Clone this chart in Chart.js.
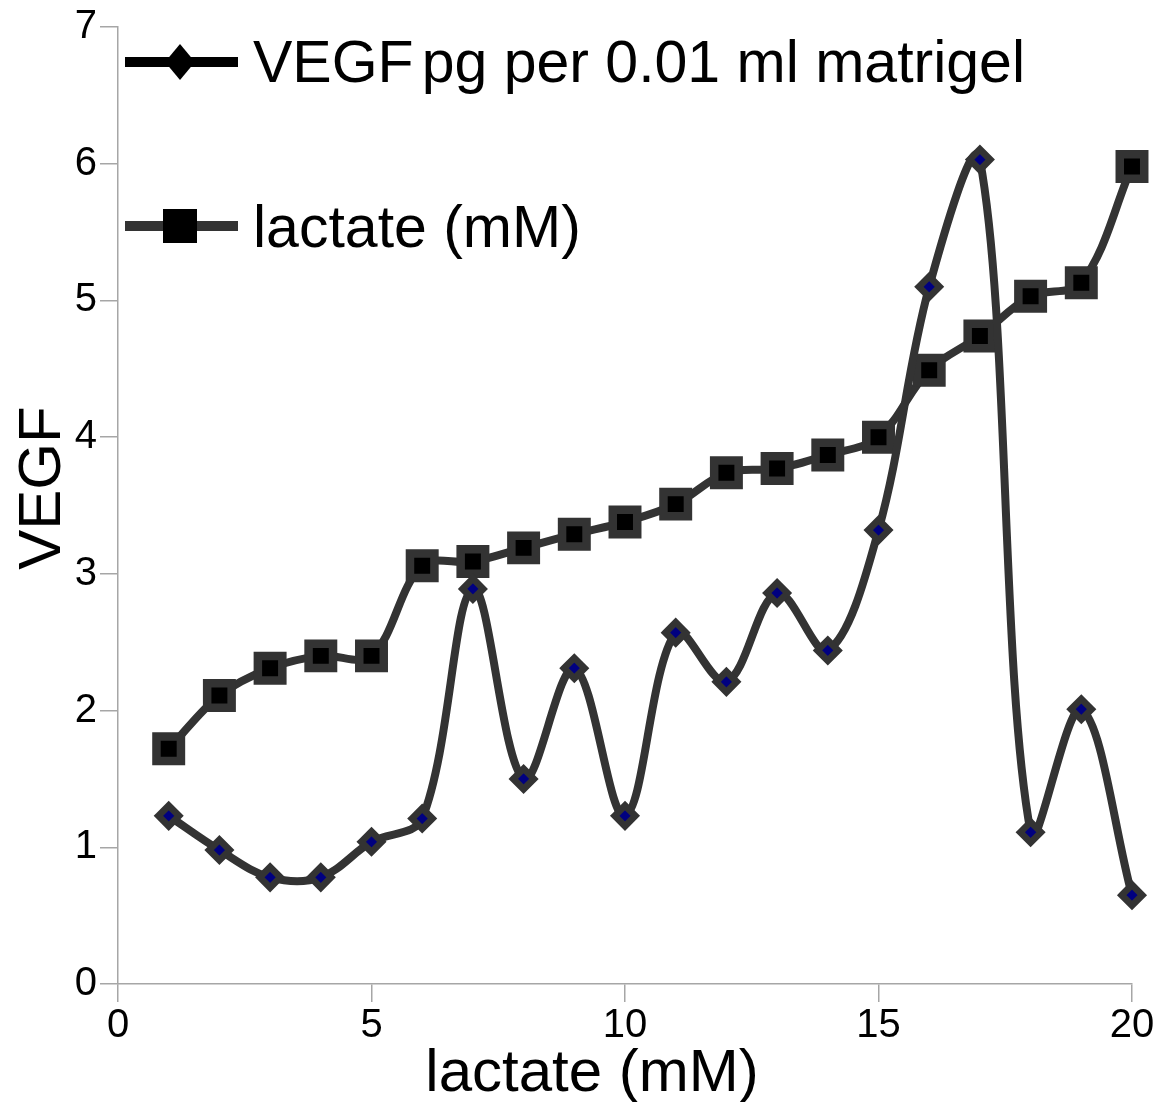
<!DOCTYPE html>
<html>
<head>
<meta charset="utf-8">
<title>VEGF vs lactate</title>
<script src="https://cdn.jsdelivr.net/npm/chart.js@4.4.1/dist/chart.umd.min.js"></script>
<style>
  html, body { margin: 0; padding: 0; background: #fff; }
  #wrap { width: 1158px; height: 1102px; position: relative; }
</style>
</head>
<body>
<div id="wrap"><canvas id="chart"></canvas></div>
<script>
// ── Data ─────────────────────────────────────────────────────
const lactateX = [1, 2, 3, 4, 5, 6, 7, 8, 9, 10, 11, 12, 13, 14, 15, 16, 17, 18, 19, 20];
const vegfVals = [1.23, 0.98, 0.78, 0.78, 1.04, 1.21, 2.89, 1.50, 2.31, 1.23,
                  2.57, 2.21, 2.86, 2.44, 3.32, 5.10, 6.03, 1.11, 2.01, 0.65];
const lactateVals = [1.72, 2.11, 2.31, 2.40, 2.40, 3.06, 3.09, 3.19, 3.29, 3.38,
                     3.51, 3.74, 3.77, 3.87, 4.00, 4.49, 4.74, 5.03, 5.13, 5.98];
const xTicks = [0, 5, 10, 15, 20];
const yTicks = [0, 1, 2, 3, 4, 5, 6, 7];

const FONT = "'Liberation Sans', Arial, Helvetica, sans-serif";
const LINE = '#333333';
const AXIS = '#a6a6a6';

const toPoints = vals => vals.map((v, i) => ({ x: lactateX[i], y: v }));

// ── Legend + axis titles drawn onto the canvas ───────────────
const overlayText = {
  id: 'overlayText',
  afterDraw(chart) {
    const ctx = chart.ctx;
    ctx.save();
    ctx.fillStyle = '#000';

    // legend row 1: VEGF
    ctx.strokeStyle = '#000';
    ctx.lineWidth = 10;
    ctx.beginPath();
    ctx.moveTo(125, 62); ctx.lineTo(238, 62);
    ctx.stroke();
    ctx.beginPath();
    ctx.moveTo(180, 44); ctx.lineTo(195, 62); ctx.lineTo(180, 80); ctx.lineTo(165, 62);
    ctx.closePath();
    ctx.fill();

    // legend row 2: lactate
    ctx.strokeStyle = LINE;
    ctx.beginPath();
    ctx.moveTo(125, 226); ctx.lineTo(238, 226);
    ctx.stroke();
    ctx.fillRect(163, 209, 34, 34);

    ctx.font = `59px ${FONT}`;
    ctx.textAlign = 'left';
    ctx.textBaseline = 'alphabetic';
    ctx.fillText('VEGF', 253, 82);
    const w = ctx.measureText('VEGF').width;
    ctx.fillText('pg per 0.01 ml matrigel', 253 + w + 8, 82);
    ctx.fillText('lactate (mM)', 253, 247);

    // axis titles
    ctx.font = `60px ${FONT}`;
    ctx.textAlign = 'center';
    ctx.fillText('lactate (mM)', 592, 1091);

    ctx.translate(60, 488);
    ctx.rotate(-Math.PI / 2);
    ctx.fillText('VEGF', 0, 0);
    ctx.restore();
  }
};

new Chart(document.getElementById('chart'), {
  type: 'line',
  data: {
    datasets: [
      {
        label: 'VEGF pg per 0.01 ml matrigel',
        data: toPoints(vegfVals),
        borderColor: LINE,
        borderWidth: 8,
        tension: 0.35,
        borderJoinStyle: 'round',
        borderCapStyle: 'round',
        pointStyle: 'rectRot',
        pointRadius: 10.3,
        pointBorderWidth: 6.7,
        pointBackgroundColor: '#000080',
        pointBorderColor: LINE,
        clip: false,
      },
      {
        label: 'lactate (mM)',
        data: toPoints(lactateVals),
        borderColor: LINE,
        borderWidth: 8,
        tension: 0.35,
        borderJoinStyle: 'round',
        borderCapStyle: 'round',
        pointStyle: 'rect',
        pointRadius: 17.3,
        pointBorderWidth: 8.5,
        pointBackgroundColor: '#000',
        pointBorderColor: LINE,
        clip: false,
      }
    ]
  },
  options: {
    responsive: true,
    maintainAspectRatio: false,
    animation: false,
    events: [],
    layout: { padding: { top: 26, right: 26, left: 0, bottom: 0 } },
    plugins: {
      legend: { display: false },
      tooltip: { enabled: false },
    },
    scales: {
      x: {
        type: 'linear',
        min: 0,
        max: 20,
        afterBuildTicks: s => { s.ticks = xTicks.map(v => ({ value: v })); },
        afterFit: s => { s.height = 118; },
        ticks: { color: '#000', padding: 0, font: { family: FONT, size: 40 } },
        grid: { drawOnChartArea: false, drawTicks: true, tickLength: 18, color: AXIS, lineWidth: 1.5 },
        border: { display: true, color: AXIS, width: 1.5 },
      },
      y: {
        type: 'linear',
        min: 0,
        max: 7,
        afterBuildTicks: s => { s.ticks = yTicks.map(v => ({ value: v })); },
        afterFit: s => { s.width = 118; },
        ticks: { color: '#000', padding: 3, font: { family: FONT, size: 40 } },
        grid: { drawOnChartArea: false, drawTicks: true, tickLength: 18, color: AXIS, lineWidth: 1.5 },
        border: { display: true, color: AXIS, width: 1.5 },
      }
    }
  },
  plugins: [overlayText]
});
</script>
</body>
</html>
